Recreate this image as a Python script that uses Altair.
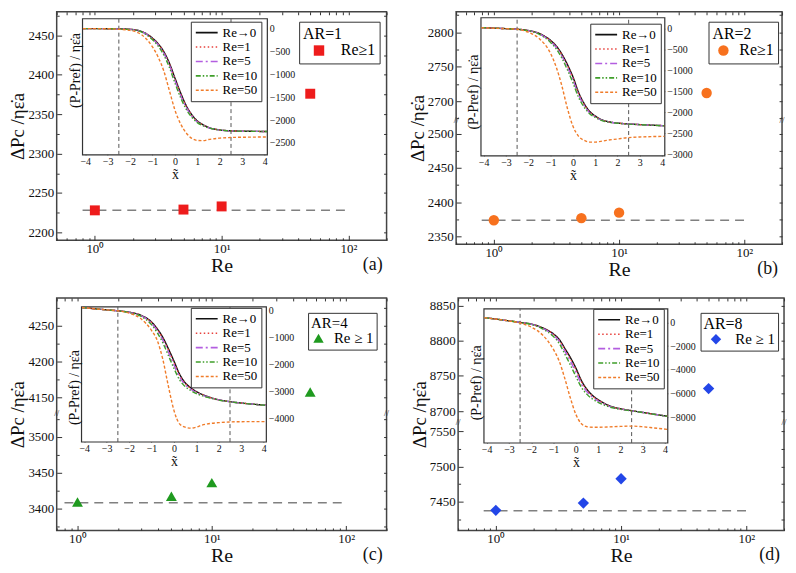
import altair as alt
import pandas as pd

FONT = "Liberation Serif"

# ---------------- data ----------------
re_main = [1, 5, 10, 50]
re_main_c = [1, 5, 10, 54]
dp_a = [2228, 2229, 2233, 2376]
dp_b = [2374, 2377, 2385, 2712]
dp_c = [3409, 3417, 3436, 4157]
dp_d = [7437.6, 7448, 7482.6, 8732]
base_vals = {"a": 2228, "b": 2374, "c": 3408, "d": 7437}
base_re = [0.8, 100]

series = ["Re\u21920", "Re=1", "Re=5", "Re=10", "Re=50"]
xt = [-4.1, -3, -2.5, -2, -1.5, -1, -0.75, -0.5, -0.25, 0, 0.25, 0.5, 0.75, 1,
      1.25, 1.5, 2, 2.5, 3, 3.5, 4.1]

ins_a = {
    "Re\u21920": [0, -2, -5, -15, -60, -210, -330, -500, -750, -1080, -1400, -1680, -1880, -2020, -2100, -2160, -2215, -2235, -2242, -2246, -2250],
    "Re=1": [0, -2, -5, -16, -62, -215, -338, -512, -765, -1100, -1420, -1695, -1892, -2028, -2106, -2163, -2216, -2235, -2242, -2246, -2250],
    "Re=5": [0, -2, -5, -17, -66, -225, -352, -535, -795, -1135, -1455, -1722, -1910, -2040, -2114, -2168, -2218, -2236, -2243, -2246, -2250],
    "Re=10": [0, -2, -6, -19, -72, -245, -380, -575, -845, -1190, -1505, -1760, -1935, -2055, -2122, -2172, -2218, -2236, -2243, -2246, -2249],
    "Re=50": [0, -3, -15, -40, -130, -400, -620, -920, -1350, -1780, -2080, -2280, -2400, -2445, -2450, -2425, -2395, -2380, -2375, -2372, -2370],
}
ins_b = {
    "Re\u21920": [15, -10, -23, -55, -125, -290, -420, -610, -860, -1154, -1520, -1790, -1980, -2090, -2170, -2215, -2258, -2280, -2295, -2308, -2322],
    "Re=1": [15, -10, -23, -56, -128, -297, -430, -625, -880, -1180, -1545, -1808, -1992, -2098, -2175, -2218, -2259, -2281, -2296, -2308, -2322],
    "Re=5": [15, -10, -24, -58, -134, -312, -452, -655, -920, -1225, -1585, -1838, -2012, -2110, -2182, -2222, -2261, -2282, -2296, -2309, -2323],
    "Re=10": [15, -10, -25, -62, -145, -340, -490, -705, -985, -1295, -1640, -1878, -2035, -2125, -2190, -2228, -2264, -2284, -2298, -2310, -2324],
    "Re=50": [10, -10, -23, -95, -250, -600, -920, -1360, -1900, -2330, -2570, -2670, -2712, -2712, -2695, -2672, -2638, -2605, -2590, -2582, -2576],
}
ins_c = {
    "Re\u21920": [95, 10, -25, -75, -180, -440, -680, -1000, -1420, -1880, -2360, -2680, -2870, -3010, -3110, -3190, -3310, -3380, -3430, -3470, -3515],
    "Re=1": [95, 10, -25, -77, -186, -455, -705, -1035, -1465, -1930, -2400, -2705, -2888, -3022, -3118, -3196, -3312, -3381, -3431, -3471, -3515],
    "Re=5": [95, 10, -26, -80, -196, -485, -750, -1100, -1545, -2020, -2470, -2750, -2920, -3045, -3135, -3206, -3316, -3383, -3432, -3472, -3516],
    "Re=10": [95, 10, -27, -86, -215, -535, -825, -1200, -1670, -2150, -2570, -2820, -2970, -3080, -3160, -3222, -3322, -3386, -3434, -3473, -3517],
    "Re=50": [95, 10, -25, -110, -300, -750, -1108, -1800, -2800, -3700, -4200, -4320, -4357, -4320, -4245, -4200, -4155, -4130, -4120, -4118, -4116],
}
ins_d = {
    "Re\u21920": [400, 130, 0, -140, -450, -980, -1420, -2180, -2950, -3850, -4900, -5650, -6170, -6520, -6800, -7028, -7280, -7443, -7590, -7740, -7913],
    "Re=1": [400, 130, 0, -145, -465, -1010, -1470, -2250, -3050, -3970, -5000, -5720, -6220, -6555, -6825, -7045, -7290, -7448, -7593, -7742, -7913],
    "Re=5": [400, 130, -2, -155, -495, -1080, -1580, -2400, -3260, -4200, -5200, -5860, -6320, -6630, -6880, -7080, -7305, -7455, -7597, -7745, -7915],
    "Re=10": [400, 130, -5, -170, -545, -1200, -1760, -2650, -3580, -4550, -5480, -6070, -6470, -6740, -6960, -7130, -7330, -7465, -7603, -7750, -7918],
    "Re=50": [400, 120, -55, -400, -1050, -2300, -3250, -4700, -6350, -7750, -8550, -8800, -8840, -8840, -8830, -8810, -8770, -8745, -8800, -8900, -9020],
}
inset_ticks = {
    "a": [0, -500, -1000, -1500, -2000, -2500],
    "b": [0, -500, -1000, -1500, -2000, -2500, -3000],
    "c": [0, -1000, -2000, -3000, -4000],
    "d": [0, -2000, -4000, -6000, -8000],
}

line_colors = ["#111111", "#e8413c", "#b35ee0", "#3f9f2a", "#f07c2a"]
line_dashes = [[1, 0], [1.5, 2.5], [7, 3, 2, 3], [5, 2, 1.5, 2, 1.5, 2], [3, 2]]

YTITLE = "\u0394Pc /\u03b7\u03b5\u0307a"
ITITLE = "(P-Pref) / \u03b7\u03b5\u0307a"

# legend styling per panel: [title size, label size, padding, symbolOffset, labelOffset, titlePadding]
panels = {
    "a": dict(re=re_main, dp=dp_a, lab="Re\u22651", ar="AR=1", color="#ee1c1c", shape="square", size=100,
              xdom=[0.5, 200], ydom=[2190, 2480], brk=None, W=332, H=230,
              ymaj=list(range(2200, 2451, 50)), ymin=list(range(2225, 2476, 50)),
              ins=ins_a, idom=[-2760, 216], iyt=-850,
              ipx=[26, 212, 7, 144], leg1=[135, 10], leg2=[244, 10], lst=[16, 16, 4, 8, 14, 1], tag="(a)"),
    "b": dict(re=re_main, dp=dp_b, lab="Re\u22651", ar="AR=2", color="#f7711e", shape="circle", size=110,
              xdom=[0.5, 200], ydom=[2339, 2830], brk=(2519, 2672), W=328, H=234,
              ymaj=[2350, 2400, 2450, 2500, 2700, 2750, 2800], ymin=[2375, 2425, 2475, 2675, 2725, 2775, 2825],
              ins=ins_b, idom=[-3040, 250], iyt=-1450,
              ipx=[25, 210, 6, 145], leg1=[135, 12], leg2=[254, 10], lst=[16, 16, 4, 3, 8, 1], tag="(b)"),
    "c": dict(re=re_main_c, dp=dp_c, lab="Re \u2265 1", ar="AR=4", color="#1f9a1f", shape="triangle-up", size=120,
              xdom=[0.7, 200], ydom=[3369, 4289], brk=(3534, 4128), W=332, H=234,
              ymaj=[3400, 3450, 3500, 4150, 4200, 4250], ymin=[3375, 3425, 3475, 3525, 4175, 4225, 4275],
              ins=ins_c, idom=[-4870, 120], iyt=-2750,
              ipx=[25, 211, 9, 145], leg1=[135, 10], leg2=[253, 15], lst=[15, 15, 3, 0, 8, 0], tag="(c)"),
    "d": dict(re=re_main, dp=dp_d, lab="Re \u2265 1", ar="AR=8", color="#2346e8", shape="diamond", size=130,
              xdom=[0.5, 200], ydom=[7409, 8861], brk=(7564, 8685), W=328, H=234,
              ymaj=[7450, 7500, 7550, 8700, 8750, 8800, 8850], ymin=[7425, 7475, 7525, 8725, 8775, 8825],
              ins=ins_d, idom=[-10170, 1140], iyt=-4850,
              ipx=[26, 211, 11, 146], leg1=[136, 11], leg2=[244, 15], lst=[16, 15, 3, 5, 12, 0], tag="(d)"),
}

XMAJ = [1, 10, 100]
XMIN = [0.5, 0.6, 0.7, 0.8, 0.9, 2, 3, 4, 5, 6, 7, 8, 9, 20, 30, 40, 50, 60, 70, 80, 90, 200]
TC = 60  # explicit tick count so that Vega never thins the given tick values


def build_panel(key):
    p = panels[key]
    W, H = p["W"], p["H"]
    brk = p["brk"]
    off = 0 if brk is None else brk[1] - brk[0]

    def disp(v):
        if brk is None or v <= brk[0]:
            return v
        return v - off

    dlo, dhi = disp(p["ydom"][0]), disp(p["ydom"][1])
    maj_disp = [disp(v) for v in p["ymaj"]]
    min_disp = [disp(v) for v in p["ymin"]]
    rexpr = "datum.value" if brk is None else f"(datum.value > {brk[0]} ? datum.value + {off} : datum.value)"
    ylab = f"format({rexpr}, 'd')"
    TS = 5
    xin = [v for v in XMIN if p["xdom"][0] <= v <= p["xdom"][1]]
    xsc = alt.Scale(type="log", domain=p["xdom"], nice=False)
    ysc = alt.Scale(domain=[dlo, dhi], nice=False, zero=False)

    x_main = alt.X("Re:Q", title="Re", scale=xsc,
                   axis=alt.Axis(orient="bottom", values=XMAJ, tickCount=TC,
                                 labelExpr="datum.value == 1 ? '10\u2070' : datum.value == 10 ? '10\u00b9' : '10\u00b2'",
                                 tickSize=TS, offset=-TS, domain=False, labelPadding=2, titlePadding=0,
                                 labelFontSize=13, titleFontSize=20, labelOverlap=False, labelFlush=False))
    y_main = alt.Y("disp:Q", title=YTITLE, scale=ysc,
                   axis=alt.Axis(orient="left", values=maj_disp, tickCount=TC, labelExpr=ylab, tickSize=TS,
                                 offset=-TS, domain=False, labelPadding=3, titlePadding=0, labelFontSize=13,
                                 titleFontSize=19, labelOverlap=False, labelFlush=False))
    x_top = alt.X("Re:Q", title=None, scale=xsc,
                  axis=alt.Axis(orient="top", values=sorted(XMAJ + xin), tickCount=TC, labels=False, tickSize=3,
                                offset=-3, domain=False, title=None))
    y_right = alt.Y("disp:Q", title=None, scale=ysc,
                    axis=alt.Axis(orient="right", values=sorted(maj_disp + min_disp), tickCount=TC, labels=False,
                                  tickSize=3, offset=-3, domain=False, title=None))

    pts = pd.DataFrame({"Re": p["re"], "val": p["dp"]})
    pts["disp"] = [disp(v) for v in pts["val"]]
    pts["lab"] = p["lab"]
    base = pd.DataFrame({"Re": [base_re[0]], "Re2": [base_re[1]], "disp": [disp(base_vals[key])]})

    rule = alt.Chart(base).mark_rule(strokeDash=[9, 6], color="#808080", strokeWidth=1.5).encode(
        x=x_top, x2="Re2:Q", y=y_right)

    tfs, lfs, pad, so, lo, tp = p["lst"]
    leg_pts = alt.Legend(title=p["ar"], orient="none", legendX=p["leg2"][0], legendY=p["leg2"][1],
                         strokeColor="#333333", fillColor="white", padding=pad, titleFontSize=tfs,
                         labelFontSize=lfs, titleFontWeight="normal", symbolSize=110, titlePadding=tp,
                         labelOffset=lo, symbolOffset=so, symbolOpacity=1)
    points = alt.Chart(pts).mark_point(filled=True, opacity=1, size=p["size"]).encode(
        x=x_main, y=y_main,
        color=alt.Color("lab:N", scale=alt.Scale(domain=[p["lab"]], range=[p["color"]]), legend=leg_pts),
        shape=alt.Shape("lab:N", scale=alt.Scale(domain=[p["lab"]], range=[p["shape"]]), legend=leg_pts),
    )
    tag = alt.Chart(pd.DataFrame({"k": [0]})).mark_text(
        text=p["tag"], align="right", baseline="middle", dx=-4, dy=25, fontSize=18, color="#111111").encode(
        x=alt.XDatum(p["xdom"][1], scale=xsc,
                     axis=alt.Axis(orient="bottom", values=xin, tickCount=TC, labels=False, tickSize=2.5,
                                   offset=-2.5, domain=False, title=None)),
        y=alt.YDatum(dlo, scale=ysc,
                     axis=alt.Axis(orient="left", values=min_disp, tickCount=TC, labels=False, tickSize=2.5,
                                   offset=-2.5, domain=False, title=None)))
    layers_main = [rule, points, tag]
    if brk is not None:
        bdf = pd.DataFrame({"Re": [p["xdom"][0], p["xdom"][1]], "disp": [brk[0], brk[0]]})
        layers_main.append(alt.Chart(bdf).mark_text(text="//", fontSize=9, color="#333333").encode(
            x=alt.X("Re:Q", scale=xsc, axis=None), y=alt.Y("disp:Q", scale=ysc, axis=None)))
    main = alt.layer(*layers_main).resolve_axis(x="independent", y="independent")

    # ---- inset ----
    ix0, ix1, iy0, iy1 = p["ipx"]
    ilo, ihi = p["idom"]
    XI = [-4.12, 4.12]
    xi_enc = alt.X("xt:Q", title="x\u0303",
                   scale=alt.Scale(domain=XI, range=[ix0, ix1], nice=False, zero=False),
                   axis=alt.Axis(orient="bottom", values=list(range(-4, 5)), tickCount=TC, format="d", tickSize=3,
                                 offset=iy1 - 3 - H, domain=False, labelFontSize=10, labelPadding=2,
                                 titleFontSize=14, titlePadding=1, labelFlush=False, labelOverlap=False))
    yi_enc = alt.Y("p:Q", title=None,
                   scale=alt.Scale(domain=[ilo, ihi], range=[iy1, iy0], nice=False, zero=False),
                   axis=alt.Axis(orient="right", values=inset_ticks[key], tickCount=TC, format="d", tickSize=3,
                                 offset=ix1 - 3 - W, domain=False, labelFontSize=10, labelPadding=2,
                                 labelFlush=False, labelOverlap=False))
    frame = alt.Chart(pd.DataFrame({"xt": [XI[0]], "xt2": [XI[1]], "p": [ilo], "p2": [ihi]})).mark_rect(
        fill="white", stroke="#333333", strokeWidth=1.2).encode(x=xi_enc, x2="xt2:Q", y=yi_enc, y2="p2:Q")
    vl = alt.Chart(pd.DataFrame({"xt": [-2.5, 2.5], "p": [ilo, ilo], "p2": [ihi, ihi]})).mark_rule(
        strokeDash=[4, 3], color="#555555", strokeWidth=1).encode(x=xi_enc, y=yi_enc, y2="p2:Q")
    rows = []
    for s in series:
        for xv, yv in zip(xt, p["ins"][s]):
            rows.append({"xt": xv, "p": yv, "series": s})
    cdf = pd.DataFrame(rows)
    leg_lines = alt.Legend(title=None, orient="none", legendX=p["leg1"][0], legendY=p["leg1"][1],
                           strokeColor="#333333", fillColor="white", padding=4, labelFontSize=13,
                           symbolType="stroke", symbolSize=484, symbolStrokeWidth=1.6, clipHeight=14,
                           rowPadding=0.5, labelOffset=4)
    curves = alt.Chart(cdf).mark_line(interpolate="monotone", strokeWidth=1.4).encode(
        x=xi_enc, y=yi_enc,
        stroke=alt.Stroke("series:N", scale=alt.Scale(domain=series, range=line_colors), legend=leg_lines),
        strokeDash=alt.StrokeDash("series:N", scale=alt.Scale(domain=series, range=line_dashes), legend=leg_lines),
    )
    ititle = alt.Chart(pd.DataFrame({"k": [0]})).mark_text(
        text=ITITLE, angle=270, baseline="bottom", align="center", dx=-3, fontSize=14, color="#111111").encode(
        x=alt.datum(XI[0]), y=alt.datum(p["iyt"]))
    inset = alt.layer(frame, vl, curves, ititle)

    return alt.layer(main, inset).resolve_scale(x="independent", y="independent").properties(width=W, height=H)


RES = dict(color="independent", shape="independent", stroke="independent", strokeDash="independent")
row1 = alt.hconcat(build_panel("a"), build_panel("b"), spacing=19).resolve_scale(**RES)
row2 = alt.hconcat(build_panel("c"), build_panel("d"), spacing=19).resolve_scale(**RES)
chart = alt.vconcat(row1, row2, spacing=16).resolve_scale(**RES).properties(padding=0).configure_view(
    stroke="#444444", strokeWidth=1.5).configure_axis(
    labelFont=FONT, titleFont=FONT, titleFontWeight="normal", grid=False, labelColor="#111111",
    titleColor="#111111", tickColor="#333333", labelOverlap=False).configure_legend(
    labelFont=FONT, titleFont=FONT).configure_text(font=FONT)

chart.save("out.html", embed_options={"renderer": "svg", "actions": False})
